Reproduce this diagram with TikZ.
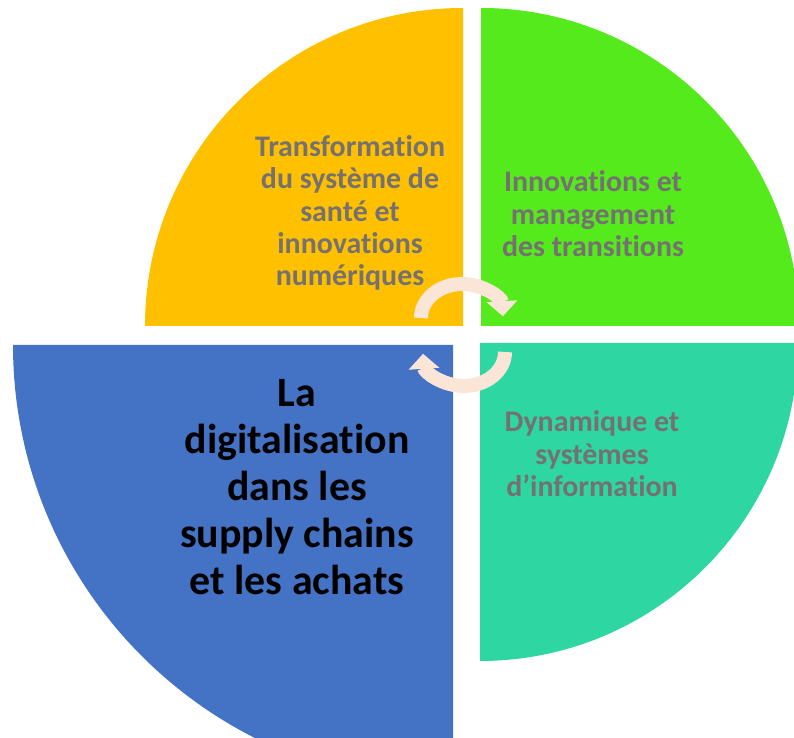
\documentclass[tikz,border=0pt]{standalone}
\usepackage{fontspec}
\setmainfont[RawFeature={-liga;-clig;-dlig;-calt}]{Carlito}
\usetikzlibrary{arrows.meta}
\definecolor{qorange}{HTML}{FFC000}
\definecolor{qgreen}{HTML}{55EA1C}
\definecolor{qteal}{HTML}{2ED6A2}
\definecolor{qblue}{HTML}{4472C4}
\definecolor{qgrey}{HTML}{767171}
\definecolor{qpeach}{HTML}{FBE5D6}
\begin{document}
\begin{tikzpicture}[x=1bp,y=1bp,
    txt/.style={align=center,text=qgrey,font=\fontsize{30}{32.5}\selectfont\bfseries},
    bigtxt/.style={align=center,text=black,font=\fontsize{42}{47}\selectfont\bfseries},
    cyc/.style={qpeach,line width=14bp,-{Triangle[width=30bp,length=15bp]}}]
    \useasboundingbox (0,0) rectangle (794,738);
    \clip (0,0) rectangle (794,738);
    \fill[qorange] (463,412) -- ++(-318,0) arc[start angle=180,end angle=90,radius=318] -- cycle;
    \fill[qgreen] (481,412) -- ++(0,318) arc[start angle=90,end angle=0,radius=318] -- cycle;
    \fill[qteal] (480,395) -- ++(318,0) arc[start angle=0,end angle=-90,radius=318] -- cycle;
    \fill[qblue] (453,393) -- ++(0,-440) arc[start angle=-90,end angle=-180,radius=440] -- cycle;
    \node[txt] (sante) at (350,525) {Transformation\\du système de\\santé et\\innovations\\numériques};
    \node[txt] (transit) at (593,524) {Innovations et\\management\\des transitions};
    \node[txt] (infosys) at (592,284) {Dynamique et\\systèmes\\d’information};
    \node[bigtxt] (digital) at (297,251) {La\\digitalisation\\dans les\\supply chains\\et les achats};
    \draw[cyc] (421,420) arc[start angle=180,end angle=3,x radius=41,y radius=34];
    \draw[cyc] (505,386) arc[start angle=0,end angle=-177,x radius=41,y radius=34];
\end{tikzpicture}
\end{document}
